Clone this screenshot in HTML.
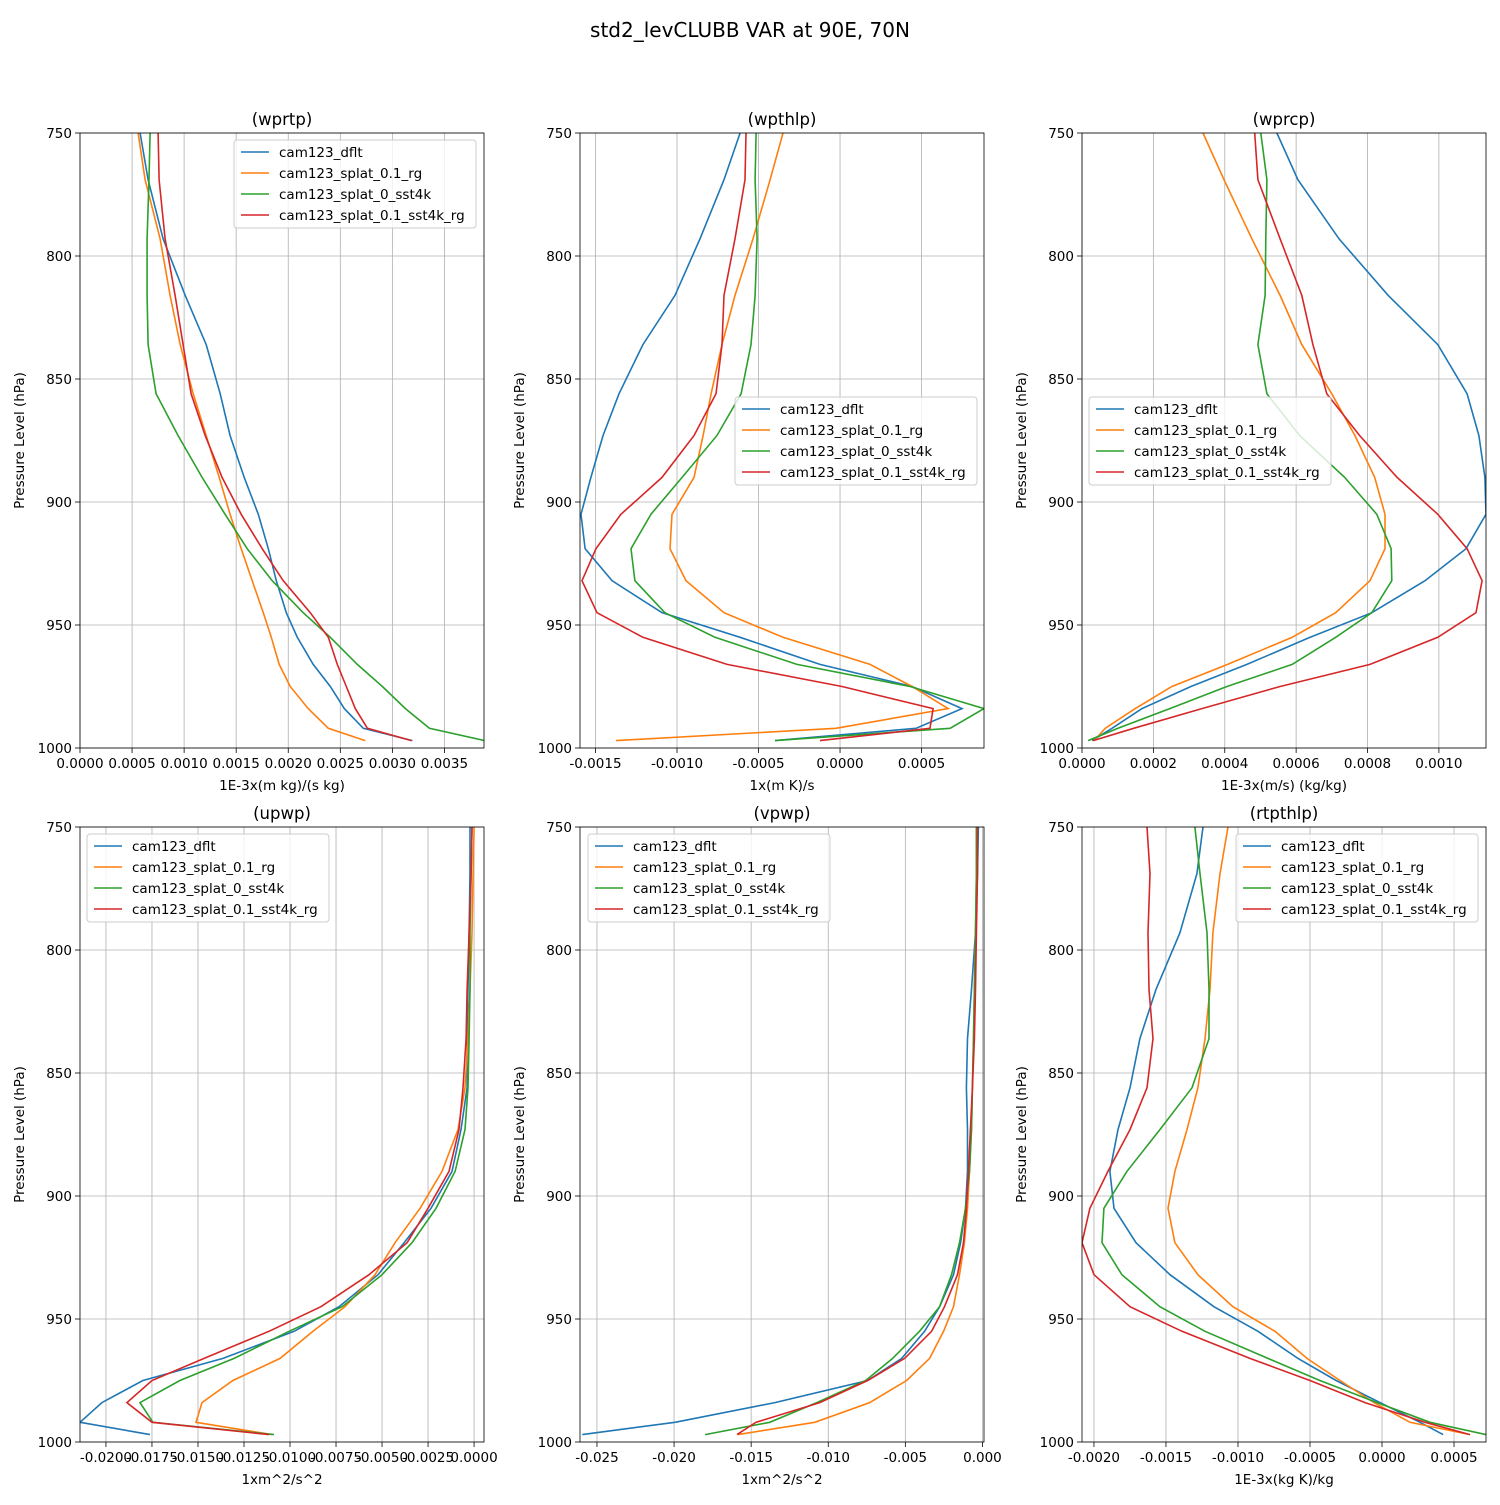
<!DOCTYPE html>
<html><head><meta charset="utf-8"><style>
body{margin:0;background:#fff}
svg text{font-family:"DejaVu Sans","Liberation Sans",sans-serif}
</style></head><body>
<svg id="fig" xmlns="http://www.w3.org/2000/svg" width="1500" height="1500" viewBox="0 0 1500 1500">
<rect width="1500" height="1500" fill="#fff"/>
<text x="750" y="37" text-anchor="middle" font-size="20">std2_levCLUBB VAR at 90E, 70N</text>
</svg>
<script>
const levels=[750,769,793,816,836,856,873,890,905,919,932,945,955,966,975,984,992,997];
const seriesNames=["cam123_dflt","cam123_splat_0.1_rg","cam123_splat_0_sst4k","cam123_splat_0.1_sst4k_rg"];
const colors=["#1f77b4","#ff7f0e","#2ca02c","#d62728"];
const yTicks=[750,800,850,900,950,1000];
// wprtp (e-3)
const wprtpDflt=[0.577,0.654,0.798,1.010,1.212,1.346,1.442,1.577,1.712,1.808,1.885,1.981,2.087,2.240,2.404,2.538,2.721,3.192];
const wprtpRg=[0.558,0.625,0.769,0.865,0.962,1.087,1.212,1.337,1.442,1.548,1.654,1.760,1.837,1.913,2.019,2.192,2.385,2.740];
const wprtpSst=[0.673,0.663,0.644,0.644,0.654,0.731,0.942,1.173,1.394,1.606,1.846,2.144,2.404,2.663,2.904,3.125,3.356,3.885];
const wprtpSstRg=[0.750,0.760,0.817,0.913,0.990,1.067,1.202,1.365,1.548,1.750,1.952,2.212,2.385,2.471,2.558,2.644,2.760,3.183];
const wprtpTicks=["0.0000","0.0005","0.0010","0.0015","0.0020","0.0025","0.0030","0.0035"];
// wpthlp (e-3)
const wpthlpDflt=[-0.613,-0.712,-0.859,-1.012,-1.209,-1.356,-1.454,-1.528,-1.589,-1.564,-1.399,-1.092,-0.613,-0.123,0.442,0.748,0.466,-0.399];
const wpthlpRg=[-0.350,-0.429,-0.534,-0.644,-0.724,-0.791,-0.840,-0.896,-1.031,-1.043,-0.945,-0.712,-0.350,0.184,0.442,0.663,-0.025,-1.374];
const wpthlpSst=[-0.515,-0.521,-0.509,-0.521,-0.546,-0.607,-0.755,-0.969,-1.160,-1.282,-1.258,-1.074,-0.767,-0.264,0.429,0.883,0.675,-0.399];
const wpthlpSstRg=[-0.577,-0.583,-0.644,-0.712,-0.724,-0.761,-0.896,-1.092,-1.344,-1.497,-1.583,-1.491,-1.209,-0.693,0.012,0.571,0.552,-0.123];
const wpthlpTicks=["-0.0015","-0.0010","-0.0005","0.0000","0.0005"];
// wprcp (e-3)
const wprcpDflt=[0.546,0.605,0.720,0.858,0.997,1.079,1.112,1.129,1.132,1.076,0.961,0.812,0.639,0.462,0.305,0.168,0.084,0.028];
const wprcpRg=[0.339,0.398,0.476,0.555,0.616,0.700,0.765,0.820,0.849,0.849,0.807,0.711,0.589,0.408,0.252,0.149,0.065,0.034];
const wprcpSst=[0.501,0.518,0.515,0.513,0.493,0.518,0.610,0.736,0.826,0.866,0.868,0.812,0.711,0.589,0.406,0.246,0.101,0.017];
const wprcpSstRg=[0.484,0.493,0.555,0.616,0.647,0.686,0.778,0.883,0.997,1.079,1.121,1.104,0.997,0.807,0.555,0.336,0.145,0.031];
const wprcpTicks=["0.0000","0.0002","0.0004","0.0006","0.0008","0.0010"];
// upwp (e-3)
const upwpDflt=[-0.22,-0.22,-0.27,-0.33,-0.38,-0.38,-0.71,-1.20,-2.34,-3.80,-5.22,-7.34,-9.78,-13.64,-17.99,-20.22,-21.41,-17.61];
const upwpRg=[0,-0.05,-0.11,-0.22,-0.33,-0.49,-0.87,-1.74,-2.93,-4.29,-5.38,-7.01,-8.75,-10.54,-13.10,-14.78,-15.11,-10.98];
const upwpSst=[-0.11,-0.16,-0.22,-0.22,-0.27,-0.33,-0.49,-1.03,-2.07,-3.37,-5.00,-7.17,-10.05,-13.04,-15.98,-18.15,-17.45,-10.87];
const upwpSstRg=[-0.11,-0.16,-0.27,-0.38,-0.43,-0.60,-0.82,-1.36,-2.50,-3.64,-5.71,-8.32,-11.14,-14.67,-17.50,-18.86,-17.50,-11.14];
const upwpTicks=["-0.0200","-0.0175","-0.0150","-0.0125","-0.0100","-0.0075","-0.0050","-0.0025","0.0000"];
// vpwp (e-3)
const vpwpDflt=[-0.26,-0.32,-0.45,-0.71,-0.97,-1.04,-0.97,-0.97,-1.10,-1.42,-1.88,-2.78,-3.75,-5.24,-7.44,-13.46,-19.94,-25.95];
const vpwpRg=[-0.39,-0.39,-0.45,-0.52,-0.58,-0.65,-0.71,-0.84,-0.97,-1.17,-1.49,-1.88,-2.52,-3.43,-4.92,-7.31,-10.87,-15.86];
const vpwpSst=[-0.39,-0.39,-0.45,-0.52,-0.58,-0.65,-0.71,-0.84,-1.10,-1.49,-2.01,-2.78,-4.08,-5.83,-7.57,-10.74,-13.79,-17.99];
const vpwpSstRg=[-0.32,-0.32,-0.39,-0.45,-0.52,-0.65,-0.78,-0.91,-1.04,-1.23,-1.62,-2.46,-3.30,-5.05,-7.44,-10.55,-14.69,-15.92];
const vpwpTicks=["-0.025","-0.020","-0.015","-0.010","-0.005","0.000"];
// rtpthlp (e-3)
const rtpthlpDflt=[-1.243,-1.285,-1.403,-1.569,-1.681,-1.750,-1.833,-1.889,-1.861,-1.708,-1.472,-1.167,-0.861,-0.583,-0.319,-0.014,0.264,0.424];
const rtpthlpRg=[-1.069,-1.125,-1.174,-1.194,-1.229,-1.278,-1.354,-1.438,-1.486,-1.438,-1.278,-1.035,-0.743,-0.521,-0.292,-0.056,0.194,0.611];
const rtpthlpSst=[-1.299,-1.264,-1.215,-1.201,-1.201,-1.319,-1.542,-1.771,-1.931,-1.944,-1.806,-1.542,-1.229,-0.792,-0.431,-0.035,0.333,0.722];
const rtpthlpSstRg=[-1.632,-1.611,-1.625,-1.618,-1.590,-1.632,-1.750,-1.903,-2.028,-2.083,-2.000,-1.750,-1.389,-0.917,-0.500,-0.118,0.299,0.611];
const rtpthlpTicks=["-0.0020","-0.0015","-0.0010","-0.0005","0.0000","0.0005"];

const NS="http://www.w3.org/2000/svg";
const fig=document.getElementById('fig');
function mk(tag,attrs,parent){const e=document.createElementNS(NS,tag);for(const k in attrs)e.setAttribute(k,attrs[k]);(parent||fig).appendChild(e);return e;}

const panels=[
 {id:"wprtp",x0:80,y0:133,xmin:0,xmax:3.88,ticks:wprtpTicks,data:[wprtpDflt,wprtpRg,wprtpSst,wprtpSstRg],xl:"1E-3x(m kg)/(s kg)",leg:[234,140]},
 {id:"wpthlp",x0:580,y0:133,xmin:-1.595,xmax:0.883,ticks:wpthlpTicks,data:[wpthlpDflt,wpthlpRg,wpthlpSst,wpthlpSstRg],xl:"1x(m K)/s",leg:[735,397]},
 {id:"wprcp",x0:1082,y0:133,xmin:0,xmax:1.132,ticks:wprcpTicks,data:[wprcpDflt,wprcpRg,wprcpSst,wprcpSstRg],xl:"1E-3x(m/s) (kg/kg)",leg:[1089,397]},
 {id:"upwp",x0:80,y0:827,xmin:-21.41,xmax:0.54,ticks:upwpTicks,data:[upwpDflt,upwpRg,upwpSst,upwpSstRg],xl:"1xm^2/s^2",leg:[87,834]},
 {id:"vpwp",x0:580,y0:827,xmin:-26.1,xmax:0.1,ticks:vpwpTicks,data:[vpwpDflt,vpwpRg,vpwpSst,vpwpSstRg],xl:"1xm^2/s^2",leg:[588,834]},
 {id:"rtpthlp",x0:1082,y0:827,xmin:-2.083,xmax:0.722,ticks:rtpthlpTicks,data:[rtpthlpDflt,rtpthlpRg,rtpthlpSst,rtpthlpSstRg],xl:"1E-3x(kg K)/kg",leg:[1236,834]}
];
const W=404,H=615;
panels.forEach((p,pi)=>{
  const g=mk('g',{});
  
  
  const xs=v=>p.x0+(v-p.xmin)/(p.xmax-p.xmin)*W;
  const ys=v=>p.y0+(v-750)/250*H;
  const cp=mk('clipPath',{id:'cp'+pi},g);mk('rect',{x:p.x0,y:p.y0,width:W,height:H},cp);
  p.ticks.forEach(t=>{
    const v=parseFloat(t)*1000, x=xs(v);
    const gl=mk('line',{x1:x,x2:x,y1:p.y0,y2:p.y0+H,stroke:'#b0b0b0','stroke-width':0.8},g);
    
    
    mk('line',{x1:x,x2:x,y1:p.y0+H,y2:p.y0+H+5,stroke:'#000','stroke-width':0.8},g);
    const tx=mk('text',{x:x,y:p.y0+H+20,'text-anchor':'middle','font-size':13.5},g);tx.textContent=t;
    
    
  });
  yTicks.forEach(t=>{
    const y=ys(t);
    const gl=mk('line',{x1:p.x0,x2:p.x0+W,y1:y,y2:y,stroke:'#b0b0b0','stroke-width':0.8},g);
    
    
    mk('line',{x1:p.x0-5,x2:p.x0,y1:y,y2:y,stroke:'#000','stroke-width':0.8},g);
    const tx=mk('text',{x:p.x0-8,y:y+5,'text-anchor':'end','font-size':13.5},g);tx.textContent=t;
    
    
  });
  p.data.forEach((arr,si)=>{
    const pts=arr.map((v,i)=>xs(v).toFixed(1)+','+ys(levels[i]).toFixed(1)).join(' ');
    const pl=mk('polyline',{points:pts,fill:'none',stroke:colors[si],'stroke-width':1.6,'clip-path':'url(#cp'+pi+')'},g);
    
    
  });
  const fr=mk('rect',{x:p.x0,y:p.y0,width:W,height:H,fill:'none',stroke:'#000','stroke-width':0.8},g);
  
  
  const ti=mk('text',{x:p.x0+W/2,y:p.y0-8,'text-anchor':'middle','font-size':16.5},g);ti.textContent='('+p.id+')';
  
  
  const xl=mk('text',{x:p.x0+W/2,y:p.y0+H+42,'text-anchor':'middle','font-size':13.5},g);xl.textContent=p.xl;
  
  
  const yl=mk('text',{x:0,y:0,'text-anchor':'middle','font-size':13.5,transform:'translate('+(p.x0-56)+','+(p.y0+H/2)+') rotate(-90)'},g);yl.textContent='Pressure Level (hPa)';
  
  
  const lg=mk('g',{},g);
  
  
  const [lx,ly]=p.leg;
  mk('rect',{x:lx,y:ly,width:242,height:88,rx:3,fill:'#fff','fill-opacity':0.8,stroke:'#ccc'},lg);
  seriesNames.forEach((n,si)=>{
    const yy=ly+12+si*21;
    const e=mk('g',{},lg);
    
    
    mk('line',{x1:lx+7,x2:lx+35,y1:yy,y2:yy,stroke:colors[si],'stroke-width':1.6},e);
    const t=mk('text',{x:lx+45,y:yy+5,'font-size':13.5},e);t.textContent=n;
  });
});
</script>
</body></html>
